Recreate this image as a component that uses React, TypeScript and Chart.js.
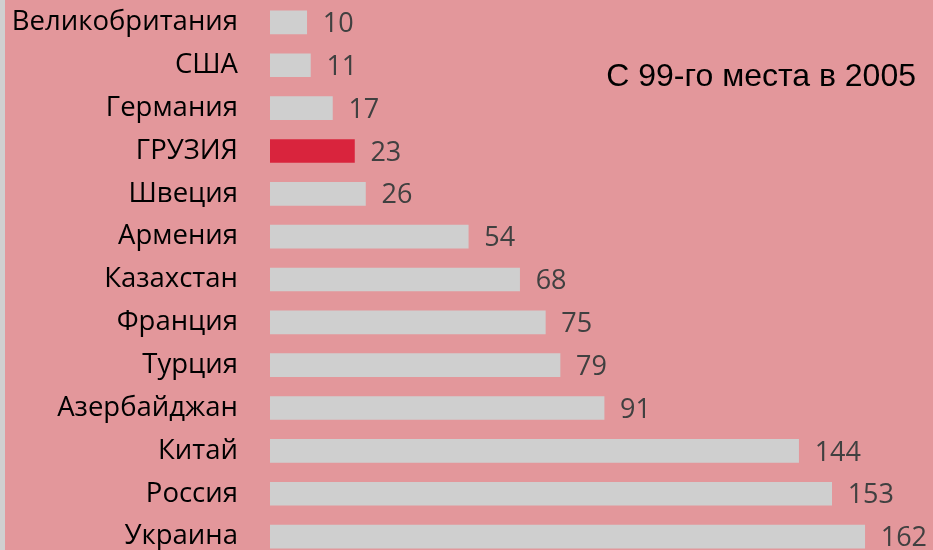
import React, { useEffect, useRef } from "react";
import { Chart, registerables } from "chart.js";
Chart.register(...registerables);

const categories = ["Великобритания", "США", "Германия", "ГРУЗИЯ", "Швеция", "Армения", "Казахстан", "Франция", "Турция", "Азербайджан", "Китай", "Россия", "Украина"];
const values = [10, 11, 17, 23, 26, 54, 68, 75, 79, 91, 144, 153, 162];
const highlight = "ГРУЗИЯ";
const note = "С 99-го места в 2005";

const FONT = "'Open Sans', sans-serif";

export default function App() {
  const ref = useRef<HTMLCanvasElement | null>(null);
  useEffect(() => {
    document.body.style.overflow = "hidden";
    const valueLabels = {
      id: "valueLabels",
      afterDatasetsDraw(chart: any) {
        const ctx = chart.ctx;
        const meta = chart.getDatasetMeta(0);
        ctx.save();
        ctx.font = `27px ${FONT}`;
        ctx.fillStyle = "#404040";
        ctx.textBaseline = "middle";
        ctx.textAlign = "left";
        meta.data.forEach((el: any, i: number) => {
          ctx.fillText(String(values[i]), el.x + 16, el.y + 2);
        });
        ctx.font = "32px 'Liberation Sans', Arial, sans-serif";
        ctx.fillStyle = "#000";
        ctx.textAlign = "right";
        ctx.fillText(note, 916, 77);
        ctx.restore();
      },
    };
    const chart = new Chart(ref.current!, {
      type: "bar",
      data: {
        labels: categories,
        datasets: [
          {
            data: values,
            backgroundColor: categories.map((c) => (c === highlight ? "#D9243D" : "#CFCFCF")),
            barThickness: 23,
            borderWidth: 0,
          },
        ],
      },
      options: {
        indexAxis: "y",
        animation: false,
        responsive: false,
        maintainAspectRatio: false,
        layout: { padding: { top: 1, bottom: 0, left: 0, right: 0 } },
        plugins: { legend: { display: false }, tooltip: { enabled: false } },
        scales: {
          x: { display: false, min: 0, max: 180.6 },
          y: {
            grid: { display: false, drawTicks: false },
            border: { display: false },
            ticks: { color: "#000", font: { family: FONT, size: 27.5 }, padding: 32 },
            afterFit: (s: any) => {
              s.width = 270;
              s.paddingTop = 0;
              s.paddingBottom = 0;
            },
          },
        },
      },
      plugins: [valueLabels],
    });
    return () => chart.destroy();
  }, []);
  return (
    <div style={{ position: "fixed", left: 0, top: 0, width: 933, height: 558, background: "#E3979B" }}>
      <div style={{ position: "absolute", left: 0, top: 0, width: 5, height: 558, background: "#D0D0D0" }} />
      <canvas ref={ref} width={933} height={558} style={{ position: "absolute", left: 0, top: 0 }} />
    </div>
  );
}
